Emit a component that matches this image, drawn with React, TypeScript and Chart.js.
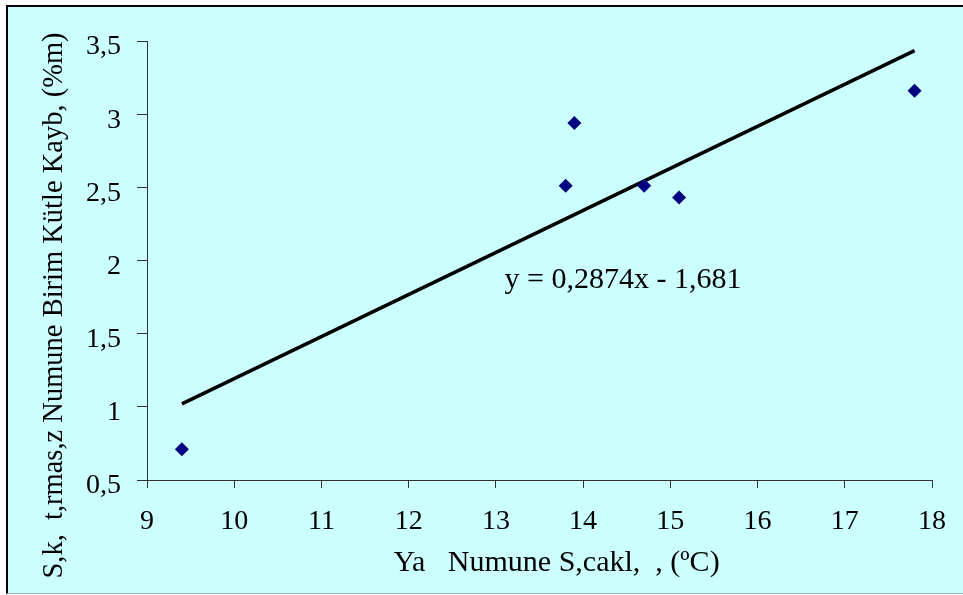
import { useEffect, useRef } from "react";
import { Chart, registerables } from "chart.js";

Chart.register(...registerables);

const tempC = [9.4, 13.8, 13.9, 14.7, 15.1, 17.8];
const massLoss = [0.71, 2.51, 2.94, 2.51, 2.43, 3.16];
const trendSlope = 0.2874;
const trendIntercept = -1.681;
const trendFrom = 9.4;
const trendTo = 17.8;
const equationLabel = "y = 0,2874x - 1,681";
const equationAt = { x: 13.1, y: 1.867 };
const xTitle = "Ya   Numune S,cakl,  , (ºC)";
const yTitle = "S,k,  t,rmas,z Numune Birim Kütle Kayb, (%m)";
const xMin = 9;
const xMax = 18;
const yMin = 0.5;
const yMax = 3.5;

const FONT = "'Liberation Serif', 'Times New Roman', serif";

export default function App() {
  const ref = useRef<HTMLCanvasElement | null>(null);

  useEffect(() => {
    if (!ref.current) return;
    const annot = {
      id: "annot",
      afterDraw(chart: any) {
        const { ctx, chartArea, scales } = chart;
        const x = scales.x;
        const y = scales.y;
        ctx.save();
        ctx.fillStyle = "#000";
        ctx.font = `30px ${FONT}`;
        ctx.textBaseline = "middle";
        ctx.textAlign = "left";
        ctx.fillText(equationLabel, x.getPixelForValue(equationAt.x), y.getPixelForValue(equationAt.y));
        ctx.font = `30px ${FONT}`;
        ctx.textAlign = "center";
        ctx.fillText(xTitle, (chartArea.left + chartArea.right) / 2 + 17, chartArea.bottom + 83);
        ctx.font = `28.5px ${FONT}`;
        ctx.translate(47, (chartArea.top + chartArea.bottom) / 2 + 45);
        ctx.rotate(-Math.PI / 2);
        ctx.fillText(yTitle, 0, 0);
        ctx.restore();
      },
    };

    const chart = new Chart(ref.current, {
      type: "scatter",
      data: {
        datasets: [
          {
            label: "trend",
            data: [
              { x: trendFrom, y: trendSlope * trendFrom + trendIntercept },
              { x: trendTo, y: trendSlope * trendTo + trendIntercept },
            ],
            showLine: true,
            borderColor: "#000",
            borderWidth: 3.5,
            pointRadius: 0,
            order: 2,
          },
          {
            label: "data",
            data: tempC.map((t, i) => ({ x: t, y: massLoss[i] })),
            pointStyle: "rectRot",
            pointRadius: 7,
            backgroundColor: "#000080",
            borderColor: "#000080",
            borderWidth: 0,
            order: 1,
          },
        ],
      },
      options: {
        animation: false,
        responsive: true,
        maintainAspectRatio: false,
        layout: { padding: { top: 34, right: 30, left: 0, bottom: 0 } },
        plugins: { legend: { display: false }, tooltip: { enabled: false } },
        scales: {
          x: {
            type: "linear",
            min: xMin,
            max: xMax,
            afterFit(scale: any) {
              scale.height = 113;
            },
            ticks: {
              stepSize: 1,
              color: "#000",
              font: { family: FONT, size: 28 },
              padding: 17,
              maxRotation: 0,
            },
            grid: { drawOnChartArea: false, drawTicks: true, tickLength: 8, color: "#333" },
            border: { display: true, color: "#333", width: 1 },
          },
          y: {
            type: "linear",
            min: yMin,
            max: yMax,
            afterFit(scale: any) {
              scale.width = 139;
            },
            ticks: {
              stepSize: 0.5,
              color: "#000",
              font: { family: FONT, size: 28 },
              padding: 16,
              labelOffset: 6,
              callback: (v: any) => String(v).replace(".", ","),
            },
            grid: { drawOnChartArea: false, drawTicks: true, tickLength: 10, color: "#333" },
            border: { display: true, color: "#333", width: 1 },
          },
        },
      },
      plugins: [annot],
    });
    return () => chart.destroy();
  }, []);

  return (
    <div style={{ position: "fixed", left: 0, top: 0, width: 963, height: 595, background: "#fff", overflow: "hidden" }}>
      <div
        style={{
          position: "absolute",
          left: 6,
          top: 5,
          width: 957,
          height: 586,
          background: "#CCFFFF",
          borderLeft: "2px solid #000",
          borderTop: "2px solid #000",
          borderBottom: "1px solid #9ab",
        }}
      >
        <div style={{ position: "relative", width: 955, height: 586 }}>
          <canvas ref={ref} />
        </div>
      </div>
    </div>
  );
}
